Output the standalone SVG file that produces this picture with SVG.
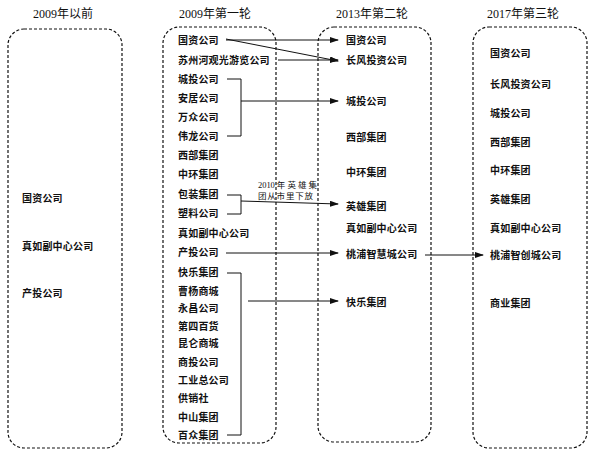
<svg xmlns="http://www.w3.org/2000/svg" width="600" height="455" viewBox="0 0 600 455">
<style>
.box{fill:none;stroke:#111;stroke-width:1.2;stroke-dasharray:3 2}
.title{font-family:"Liberation Serif","Noto Sans CJK SC",serif;font-size:12px;fill:#111;text-anchor:middle}
.t{font-family:"Noto Sans CJK SC","Noto Sans CJK JP",sans-serif;font-size:10px;font-weight:bold;fill:#111;letter-spacing:0.2px}
.lbl{font-family:"Liberation Serif","Noto Sans CJK SC",serif;font-size:8.5px;fill:#111}
.ln{fill:none;stroke:#111;stroke-width:1}
.ar{fill:none;stroke:#111;stroke-width:1;marker-end:url(#ah)}
</style>
<defs>
<marker id="ah" markerUnits="userSpaceOnUse" markerWidth="9" markerHeight="6" refX="8" refY="3" orient="auto">
<path d="M0,0 L9,3 L0,6 z" fill="#111"/>
</marker>
</defs>
<rect width="600" height="455" fill="#fff"/>

<g id="col0">
<text class="title" x="63" y="18">2009年以前</text>
<rect class="box" x="8" y="29" width="114" height="419" rx="16" ry="16"/>
<text class="t" x="22" y="202">国资公司</text>
<text class="t" x="22" y="250">真如副中心公司</text>
<text class="t" x="22" y="297">产投公司</text>
</g>

<g id="col1">
<text class="title" x="215" y="18">2009年第一轮</text>
<rect class="box" x="163" y="27" width="113" height="416" rx="16" ry="16"/>
<text class="t" x="178" y="44">国资公司</text>
<text class="t" x="178" y="64">苏州河观光游览公司</text>
<text class="t" x="178" y="83">城投公司</text>
<text class="t" x="178" y="102">安居公司</text>
<text class="t" x="178" y="121">万众公司</text>
<text class="t" x="178" y="140">伟龙公司</text>
<text class="t" x="178" y="159">西部集团</text>
<text class="t" x="178" y="178">中环集团</text>
<text class="t" x="178" y="198">包装集团</text>
<text class="t" x="178" y="217">塑料公司</text>
<text class="t" x="178" y="237">真如副中心公司</text>
<text class="t" x="178" y="256">产投公司</text>
<text class="t" x="178" y="276">快乐集团</text>
<text class="t" x="178" y="295">曹杨商城</text>
<text class="t" x="178" y="312">永昌公司</text>
<text class="t" x="178" y="330">第四百货</text>
<text class="t" x="178" y="347">昆仑商城</text>
<text class="t" x="178" y="366">商投公司</text>
<text class="t" x="178" y="384">工业总公司</text>
<text class="t" x="178" y="402">供销社</text>
<text class="t" x="178" y="421">中山集团</text>
<text class="t" x="178" y="439">百众集团</text>
</g>

<g id="col2">
<text class="title" x="372" y="18">2013年第二轮</text>
<rect class="box" x="318" y="27" width="113" height="415" rx="16" ry="16"/>
<text class="t" x="346" y="44">国资公司</text>
<text class="t" x="346" y="64">长风投资公司</text>
<text class="t" x="346" y="105">城投公司</text>
<text class="t" x="346" y="141">西部集团</text>
<text class="t" x="346" y="176">中环集团</text>
<text class="t" x="346" y="210">英雄集团</text>
<text class="t" x="346" y="232">真如副中心公司</text>
<text class="t" x="346" y="258">桃浦智慧城公司</text>
<text class="t" x="346" y="306">快乐集团</text>
</g>

<g id="col3">
<text class="title" x="523" y="18">2017年第三轮</text>
<rect class="box" x="473" y="27" width="114" height="421" rx="16" ry="16"/>
<text class="t" x="490" y="57">国资公司</text>
<text class="t" x="490" y="88">长风投资公司</text>
<text class="t" x="490" y="117">城投公司</text>
<text class="t" x="490" y="146">西部集团</text>
<text class="t" x="490" y="174">中环集团</text>
<text class="t" x="490" y="203">英雄集团</text>
<text class="t" x="490" y="232">真如副中心公司</text>
<text class="t" x="490" y="259">桃浦智创城公司</text>
<text class="t" x="490" y="307">商业集团</text>
</g>

<g id="connectors">
<path class="ar" d="M226,40 L338,40"/>
<path class="ar" d="M226,39 L338,61"/>
<path class="ar" d="M278,60 L338,60"/>
<path class="ln" d="M227,79 H241 V136 H227"/>
<path class="ar" d="M241,101 L338,101"/>
<path class="ln" d="M227,195 H241 V214 H227"/>
<path class="ar" d="M241,201 L338,204"/>
<path class="ar" d="M226,253 L338,253"/>
<path class="ar" d="M425,255 L483,255"/>
<path class="ln" d="M227,273 H241 V435 H227"/>
<path class="ar" d="M248,301 L338,301"/>
<text class="lbl" x="258" y="188" textLength="59" lengthAdjust="spacing">2010 年 英 雄 集</text>
<text class="lbl" x="258" y="199" textLength="55" lengthAdjust="spacing">团从市里下放</text>
</g>
</svg>
